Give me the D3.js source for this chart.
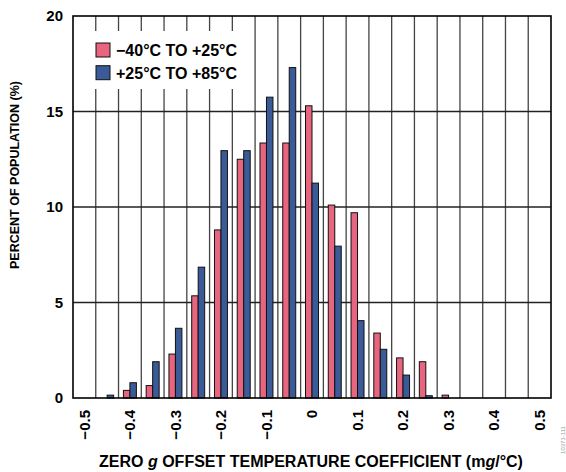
<!DOCTYPE html>
<html>
<head>
<meta charset="utf-8">
<script src="https://cdn.jsdelivr.net/npm/d3@7/dist/d3.min.js"></script>
<style>
  body { margin: 0; background: #fff; }
  text { font-family: Arial, "Liberation Sans", sans-serif; font-weight: bold; fill: #000; }
</style>
</head>
<body>
<div id="chart"></div>
<script>
// 数据
const binCenters = [-0.5, -0.45, -0.4, -0.35, -0.3, -0.25, -0.2, -0.15, -0.1, -0.05, 0,
  0.05, 0.1, 0.15, 0.2, 0.25, 0.3, 0.35, 0.4, 0.45, 0.5];
const coldValues = [0, 0, 0.4, 0.65, 2.3, 5.35, 8.8, 12.5, 13.35, 13.35, 15.3,
  10.1, 9.7, 3.4, 2.1, 1.9, 0.15, 0, 0, 0, 0];
const hotValues = [0, 0.15, 0.8, 1.9, 3.65, 6.85, 12.95, 12.95, 15.75, 17.3, 11.25,
  7.95, 4.05, 2.55, 1.2, 0.12, 0, 0, 0, 0, 0];
const seriesNames = ['\u221240°C TO +25°C', '+25°C TO +85°C'];
const xTicks = [-0.5, -0.4, -0.3, -0.2, -0.1, 0, 0.1, 0.2, 0.3, 0.4, 0.5];
const yTicks = [0, 5, 10, 15, 20];

const colors = ['#e8657f', '#3a5a98'];

const width = 566, height = 472;
const margin = { top: 16, right: 15, bottom: 74, left: 73 };

const svg = d3.select('#chart').append('svg')
  .attr('width', width)
  .attr('height', height);

// 比例尺
const x = d3.scaleLinear()
  .domain([-0.525, 0.525])
  .range([margin.left, width - margin.right]);

const y = d3.scaleLinear()
  .domain([0, 20])
  .range([height - margin.bottom, margin.top]);

const binW = x(0.05) - x(0);
const barW = binW * 0.285;

// 网格线（bin 边界）
const edges = binCenters.slice(0, -1).map(c => c + 0.025);
svg.append('g')
  .selectAll('line')
  .data(edges)
  .enter()
  .append('line')
  .attr('x1', d => x(d))
  .attr('x2', d => x(d))
  .attr('y1', y(20))
  .attr('y2', y(0))
  .attr('stroke', '#444')
  .attr('stroke-width', 1.3);

svg.append('g')
  .selectAll('line')
  .data(yTicks.slice(1, -1))
  .enter()
  .append('line')
  .attr('x1', x.range()[0])
  .attr('x2', x.range()[1])
  .attr('y1', d => y(d))
  .attr('y2', d => y(d))
  .attr('stroke', '#222')
  .attr('stroke-width', 1.3);

// 图例背景
const legend = svg.append('g');
legend.append('rect')
  .attr('x', 88)
  .attr('y', 31)
  .attr('width', 158)
  .attr('height', 58)
  .attr('fill', '#fff');

// 柱状
const series = [coldValues, hotValues];
series.forEach((vals, s) => {
  svg.append('g')
    .selectAll('rect')
    .data(binCenters.map((c, i) => ({ c, v: vals[i] })).filter(d => d.v > 0))
    .enter()
    .append('rect')
    .attr('x', d => s === 0 ? x(d.c) - barW : x(d.c))
    .attr('y', d => y(d.v))
    .attr('width', barW)
    .attr('height', d => y(0) - y(d.v))
    .attr('fill', colors[s])
    .attr('stroke', '#111')
    .attr('stroke-width', 1);
});

// 图例
seriesNames.forEach((name, i) => {
  legend.append('rect')
    .attr('x', 96)
    .attr('y', 43 + i * 22.7)
    .attr('width', 14)
    .attr('height', 14)
    .attr('fill', colors[i])
    .attr('stroke', '#111')
    .attr('stroke-width', 1);
  legend.append('text')
    .attr('x', 116)
    .attr('y', 56 + i * 22.7)
    .style('font-size', '16px')
    .text(name);
});

// 边框
svg.append('rect')
  .attr('x', x.range()[0])
  .attr('y', y(20))
  .attr('width', x.range()[1] - x.range()[0])
  .attr('height', y(0) - y(20))
  .attr('fill', 'none')
  .attr('stroke', '#000')
  .attr('stroke-width', 1.6);

// Y轴标签
svg.append('g')
  .selectAll('text')
  .data(yTicks)
  .enter()
  .append('text')
  .attr('x', 63)
  .attr('y', d => y(d))
  .attr('dy', '0.35em')
  .attr('text-anchor', 'end')
  .style('font-size', '15px')
  .text(d => d);

// X轴标签（竖排）
svg.append('g')
  .selectAll('text')
  .data(xTicks)
  .enter()
  .append('text')
  .attr('transform', d => `translate(${x(d)}, 410) rotate(-90)`)
  .attr('dy', '0.35em')
  .attr('text-anchor', 'end')
  .style('font-size', '15px')
  .text(d => d3.format('.1f')(d).replace('-', '\u2212').replace(/^0\.0$/, '0'));

// 轴标题
const xTitle = svg.append('text')
  .attr('x', 311)
  .attr('y', 467)
  .attr('text-anchor', 'middle')
  .style('font-size', '16px');
xTitle.append('tspan').text('ZERO ');
xTitle.append('tspan').style('font-style', 'italic').text('g');
xTitle.append('tspan').text(' OFFSET TEMPERATURE COEFFICIENT (m');
xTitle.append('tspan').style('font-style', 'italic').text('g');
xTitle.append('tspan').text('/°C)');

svg.append('text')
  .attr('transform', 'translate(19, 175) rotate(-90)')
  .attr('text-anchor', 'middle')
  .style('font-size', '12.5px')
  .text('PERCENT OF POPULATION (%)');

// 图号
svg.append('text')
  .attr('transform', 'translate(565, 440) rotate(-90)')
  .attr('text-anchor', 'middle')
  .style('font-size', '6px')
  .style('font-weight', 'normal')
  .style('fill', '#999')
  .text('10371-111');
</script>
</body>
</html>
